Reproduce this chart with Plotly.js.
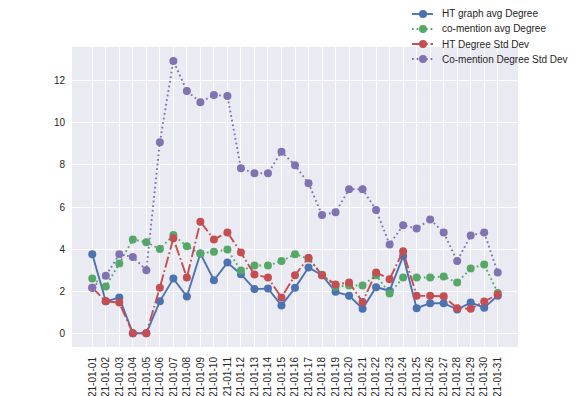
<!DOCTYPE html>
<html>
<head>
<meta charset="utf-8">
<script src="https://cdn.plot.ly/plotly-3.0.1.min.js"></script>
<style>html,body{margin:0;padding:0;background:#fff;}#chart{width:576px;height:396px;}</style>
</head>
<body>
<div id="chart"></div>
<script>
const dates = ["21-01-01","21-01-02","21-01-03","21-01-04","21-01-05","21-01-06","21-01-07","21-01-08","21-01-09","21-01-10",
  "21-01-11","21-01-12","21-01-13","21-01-14","21-01-15","21-01-16","21-01-17","21-01-18","21-01-19","21-01-20",
  "21-01-21","21-01-22","21-01-23","21-01-24","21-01-25","21-01-26","21-01-27","21-01-28","21-01-29","21-01-30","21-01-31"];

const htAvgDegree = [3.76,1.52,1.70,0,0,1.52,2.60,1.75,3.79,2.52,
  3.36,2.81,2.10,2.13,1.32,2.16,3.13,2.76,1.97,1.79,
  1.17,2.19,2.02,3.67,1.19,1.43,1.43,1.13,1.46,1.22,1.79];

const coAvgDegree = [2.60,2.22,3.32,4.46,4.33,4.00,4.67,4.13,3.79,3.87,
  3.98,2.98,3.22,3.22,3.43,3.76,3.55,2.78,2.21,2.27,
  2.27,2.76,1.89,2.65,2.65,2.65,2.70,2.41,3.08,3.27,1.92];

const htStdDev = [2.17,1.52,1.46,0,0,2.17,4.51,2.65,5.30,4.46,
  4.79,3.84,2.79,2.65,1.70,2.76,3.59,2.76,2.32,2.41,
  1.49,2.89,2.57,3.90,1.79,1.79,1.76,1.19,1.17,1.51,1.84];

const coStdDev = [2.17,2.73,3.75,3.63,3.00,9.08,12.94,11.51,10.98,11.32,
  11.27,7.84,7.60,7.60,8.63,7.98,7.13,5.62,5.75,6.84,
  6.84,5.86,4.22,5.13,4.98,5.41,4.79,3.43,4.65,4.79,2.89];

const seriesNames = ["HT graph avg Degree","co-mention avg Degree","HT Degree Std Dev","Co-mention Degree Std Dev"];
const values = [htAvgDegree, coAvgDegree, htStdDev, coStdDev];

const colors = ["#4C72B0","#55A868","#C44E52","#8172B2"];
const dashes = ["solid","1.75px,2.9px","11.2px,2.8px,1.75px,2.8px","1.75px,2.9px"];
const LW = 1.9, MS = 8;

// plot-area geometry (pixels)
const M = {l: 72, r: 58, t: 47, b: 49};
const W = 576, H = 396;
const PW = W - M.l - M.r, PH = H - M.t - M.b;
const px2x = p => (p - M.l) / PW;
const px2y = p => (H - M.b - p) / PH;

const idx = dates.map((d,i)=>i);
const traces = values.map((v,k)=>({
  x: idx, y: v, name: seriesNames[k], type: "scatter", mode: "lines+markers",
  line: {color: colors[k], width: LW, dash: dashes[k]},
  marker: {color: colors[k], size: MS},
  cliponaxis: false
}));

// manual legend (matplotlib style, outside top-right)
const shapes = [], annotations = [];
const legX0 = 412, legX1 = 433, legMark = 423, legText = 440;
const legY0 = 14, legDY = 15;
seriesNames.forEach((name,k)=>{
  const yc = legY0 + k*legDY;
  shapes.push({type:"line", xref:"paper", yref:"paper",
    x0: px2x(legX0), x1: px2x(legX1), y0: px2y(yc), y1: px2y(yc),
    line:{color: colors[k], width: LW, dash: dashes[k]}});
  shapes.push({type:"circle", xref:"paper", yref:"paper",
    x0: px2x(legMark - MS/2), x1: px2x(legMark + MS/2), y0: px2y(yc - MS/2), y1: px2y(yc + MS/2),
    fillcolor: colors[k], line:{width:0}});
  annotations.push({text: name, xref:"paper", yref:"paper", x: px2x(legText), y: px2y(yc),
    xanchor:"left", yanchor:"middle", showarrow:false, font:{size:10, color:"#262626"}});
});

const layout = {
  width: W, height: H,
  margin: {l: M.l, r: M.r, t: M.t, b: M.b, pad: 0},
  paper_bgcolor: "#ffffff",
  plot_bgcolor: "#EAEAF2",
  font: {family: "Liberation Sans, Arial, sans-serif", size: 10, color: "#262626"},
  showlegend: false,
  shapes: shapes,
  annotations: annotations,
  xaxis: {
    range: [-1.5, 31.5], tickmode: "array", tickvals: idx, ticktext: dates, tickangle: -90,
    showgrid: true, gridcolor: "#ffffff", gridwidth: 1, zeroline: false, showline: false,
    ticks: "outside", ticklen: 5, tickcolor: "rgba(0,0,0,0)", automargin: false,
    tickfont: {size: 10, color: "#262626"}
  },
  yaxis: {
    range: [-0.65, 13.6], tickvals: [0,2,4,6,8,10,12],
    showgrid: true, gridcolor: "#ffffff", gridwidth: 1, zeroline: false, showline: false,
    ticks: "outside", ticklen: 4, tickcolor: "rgba(0,0,0,0)", automargin: false,
    tickfont: {size: 10, color: "#262626"}
  }
};

Plotly.newPlot("chart", traces, layout, {displayModeBar: false, staticPlot: true});
</script>
</body>
</html>
